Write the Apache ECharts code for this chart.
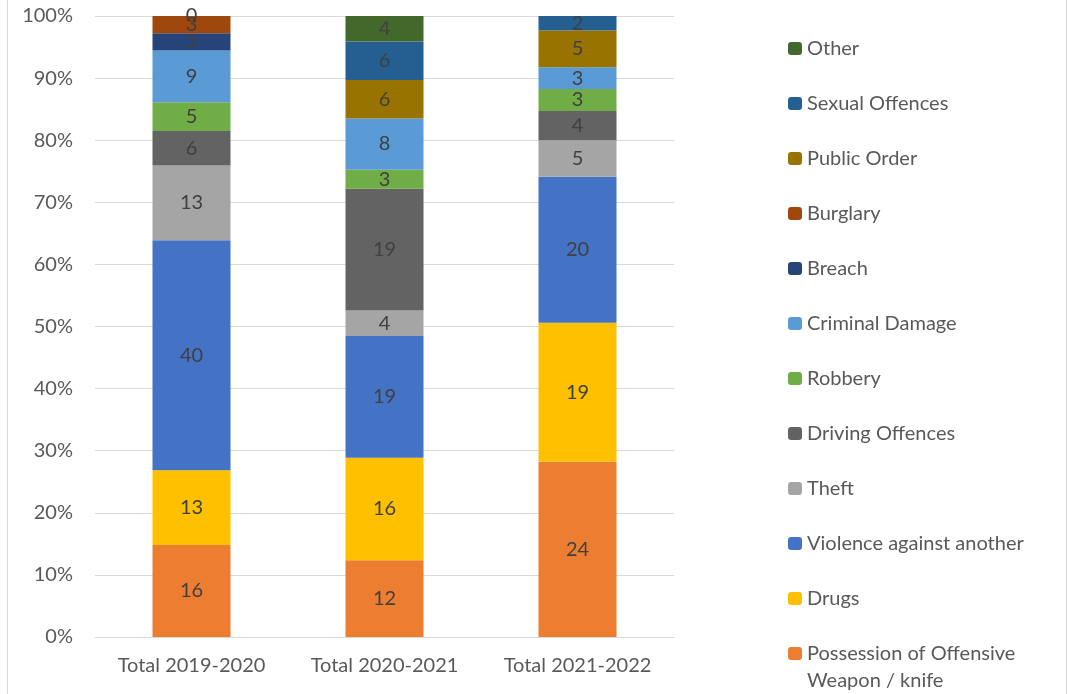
<!DOCTYPE html>
<html>
<head>
<meta charset="utf-8">
<script src="https://cdn.jsdelivr.net/npm/echarts@6/dist/echarts.min.js"></script>
<style>
  html, body { margin: 0; padding: 0; background: #fff; }
  #chart { width: 1068px; height: 694px; }
</style>
</head>
<body>
<div id="chart"></div>
<script>
// Offence counts per period (stacked to 100%)
const periods = ['Total 2019-2020', 'Total 2020-2021', 'Total 2021-2022'];

const possession   = [16, 12, 24];
const drugs        = [13, 16, 19];
const violence     = [40, 19, 20];
const theft        = [13, 4, 5];
const driving      = [6, 19, 4];
const robbery      = [5, 3, 3];
const criminalDmg  = [9, 8, 3];
const breach       = [3, null, null];
const burglary     = [3, null, null];
const publicOrder  = [0, 6, 5];
const sexual       = [null, 6, 2];
const other        = [null, 4, null];

const yTicks = [0, 10, 20, 30, 40, 50, 60, 70, 80, 90, 100];

const seriesDefs = [
  { name: 'Possession of Offensive Weapon / knife', data: possession, color: '#ED7D31' },
  { name: 'Drugs', data: drugs, color: '#FFC000' },
  { name: 'Violence against another', data: violence, color: '#4472C4' },
  { name: 'Theft', data: theft, color: '#A5A5A5' },
  { name: 'Driving Offences', data: driving, color: '#636363' },
  { name: 'Robbery', data: robbery, color: '#70AD47' },
  { name: 'Criminal Damage', data: criminalDmg, color: '#5B9BD5' },
  { name: 'Breach', data: breach, color: '#264478' },
  { name: 'Burglary', data: burglary, color: '#9E480E' },
  { name: 'Public Order', data: publicOrder, color: '#997300' },
  { name: 'Sexual Offences', data: sexual, color: '#255E91' },
  { name: 'Other', data: other, color: '#43682B' }
];

// column totals for percentage stacking
const totals = periods.map((_, i) =>
  seriesDefs.reduce((s, d) => s + (d.data[i] || 0), 0));

const FONT = 'Lato';
const FS = 20;

const series = seriesDefs.map(d => ({
  name: d.name,
  type: 'bar',
  stack: 'total',
  barWidth: 78,
  itemStyle: { color: d.color },
  label: {
    show: true,
    position: 'inside',
    color: '#404040',
    fontFamily: FONT,
    fontSize: FS,
    formatter: p => (p.data && p.data.raw != null) ? String(p.data.raw) : ''
  },
  data: d.data.map((v, i) => v == null ? null : { value: v / totals[i] * 100, raw: v })
}));

const legendTop = seriesDefs.slice(1).map(d => d.name).reverse();

const chart = echarts.init(document.getElementById('chart'), null, { renderer: 'canvas' });
chart.setOption({
  animation: false,
  backgroundColor: '#fff',
  grid: { left: 95, right: 394, top: 16, bottom: 57, containLabel: false },
  xAxis: {
    type: 'category',
    data: periods,
    axisLine: { show: true, lineStyle: { color: '#D9D9D9', width: 1 } },
    axisTick: { show: false },
    axisLabel: { color: '#595959', fontFamily: FONT, fontSize: FS, margin: 19 }
  },
  yAxis: {
    type: 'value',
    min: yTicks[0],
    max: yTicks[yTicks.length - 1],
    interval: 10,
    axisLine: { show: false },
    axisTick: { show: false },
    axisLabel: { color: '#595959', fontFamily: FONT, fontSize: FS, margin: 22, formatter: '{value}%' },
    splitLine: { lineStyle: { color: '#D9D9D9', width: 1 } }
  },
  legend: [
    {
      orient: 'vertical',
      left: 788,
      top: 35,
      padding: 0,
      itemWidth: 14,
      itemHeight: 13,
      itemGap: 28,
      selectedMode: false,
      data: legendTop,
      textStyle: { color: '#595959', fontFamily: FONT, fontSize: FS, lineHeight: 27 }
    },
    {
      orient: 'vertical',
      left: 788,
      top: 613,
      padding: 0,
      itemWidth: 14,
      itemHeight: 13,
      selectedMode: false,
      data: [seriesDefs[0].name],
      formatter: () => '\nPossession of Offensive\nWeapon / knife',
      textStyle: { color: '#595959', fontFamily: FONT, fontSize: FS, lineHeight: 27 }
    }
  ],
  graphic: [
    { type: 'line', shape: { x1: 7.5, y1: 0, x2: 7.5, y2: 694 }, style: { stroke: '#D9D9D9', lineWidth: 1 } },
    { type: 'line', shape: { x1: 1066.5, y1: 0, x2: 1066.5, y2: 694 }, style: { stroke: '#D9D9D9', lineWidth: 1 } }
  ],
  series: series
});
</script>
</body>
</html>
